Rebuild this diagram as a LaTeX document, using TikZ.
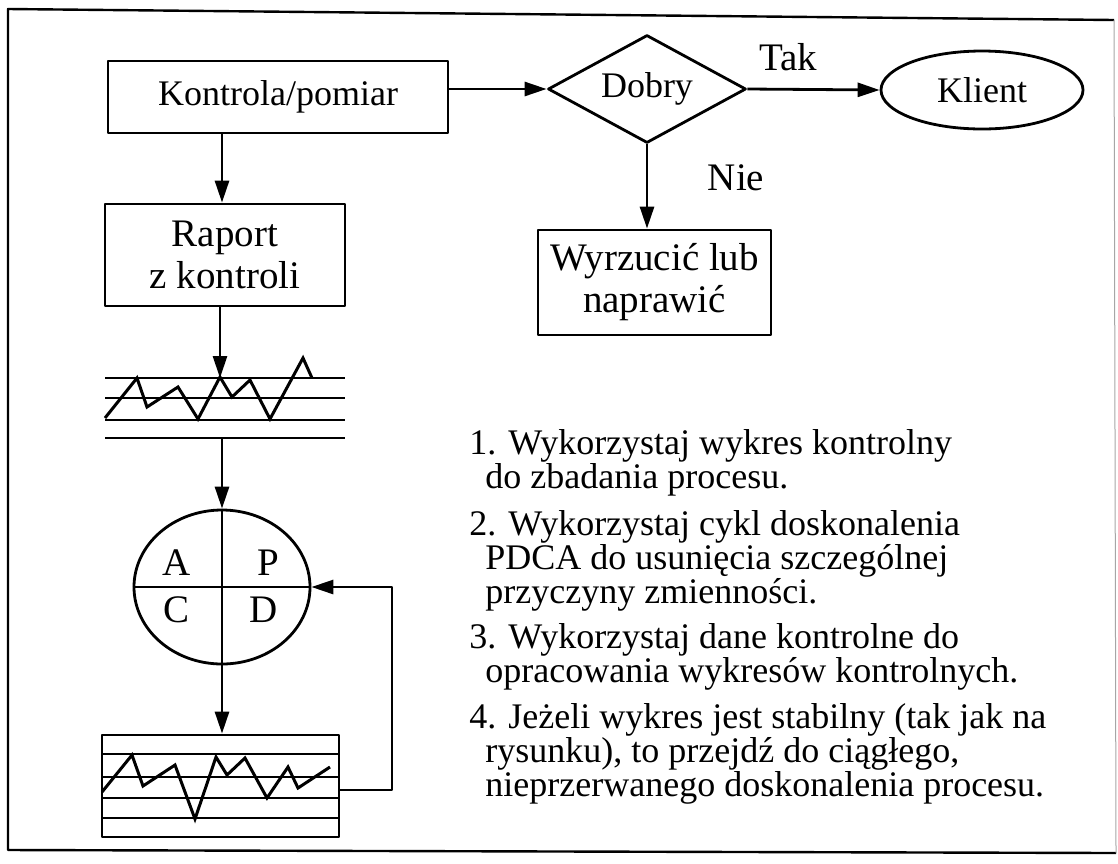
\documentclass[tikz,border=0pt]{standalone}
\usepackage{fontspec}
\setmainfont{Liberation Serif}
\usetikzlibrary{arrows.meta,shapes.geometric}
\begin{document}
\begin{tikzpicture}[x=1pt,y=-1pt,
  line width=2.8pt, line join=round,
  flow/.style={draw, line width=2.8pt, -{Triangle[length=22pt,width=14pt]}},
  box/.style={draw, line width=2.8pt, rectangle, inner sep=0pt, align=center},
  txt/.style={font=\fontsize{36}{36}\selectfont},
  big/.style={font=\fontsize{39}{42}\selectfont},
  item/.style={anchor=north west, inner sep=0pt, align=left,
               font=\fontsize{36}{34}\selectfont},
  grid/.style={line width=2.6pt},
  trace/.style={line width=3pt, line join=miter}
]
\useasboundingbox (0,0) rectangle (1118,863);

% outer frame
\draw[line width=2.4pt] (1114,20) -- (8,9) -- (8,850) -- (1116,853);
\draw[line width=1pt, black!35] (1114,20) -- (1116,853);

% top row: inspection, decision, customer
\node[box, txt, minimum width=340pt, minimum height=72pt] (kp) at (278,97) {Kontrola/pomiar};
\node[draw, diamond, line width=2.8pt, inner sep=0pt, shape aspect=1.85,
      minimum width=198pt, minimum height=108pt, txt] (dob) at (647,89) {Dobry};
\node[draw, ellipse, line width=2.8pt, inner sep=0pt,
      minimum width=202pt, minimum height=78pt, txt] (kl) at (982,90) {Klient};
\node[big] (tak) at (788,57) {Tak};
\node[big] (nie) at (736,178) {Nie};
\node[box, big, minimum width=233pt, minimum height=105pt] (wl) at (654.5,282.5) {Wyrzucić lub\\naprawić};

\draw[flow] (dob.west -| kp.east) -- (dob.west);
\draw[flow] (dob.east) -- (kl.west);
\draw[flow] (dob.south) -- (wl.north -| dob.south);

% report
\node[box, big, minimum width=240pt, minimum height=102pt] (rap) at (225,255) {Raport\\z kontroli};
\draw[flow] (kp.south -| 222,0) -- (rap.north -| 222,0);

% first control chart
\coordinate (c1t) at (220,378);
\coordinate (c1b) at (220,438);
\draw[flow] (rap.south -| c1t) -- (c1t);
\foreach \yy in {378,398,420,438} \draw[grid] (105,\yy) -- (345,\yy);
\draw[trace] (105,418) -- (137,378) -- (147,407) -- (178,387) -- (198,419) -- (220,377)
  -- (232,397) -- (250,380) -- (270,419) -- (303,358) -- (312,378);

% PDCA cycle
\node[draw, ellipse, line width=2.8pt, inner sep=0pt,
      minimum width=176pt, minimum height=154pt] (pdca) at (222,587) {};
\draw (pdca.north) -- (pdca.south);
\draw (pdca.west) -- (pdca.east);
\node[big] (pa) at (177,563) {A};
\node[big] (pp) at (268,563) {P};
\node[big] (pc) at (177,610) {C};
\node[big] (pd) at (264,610) {D};
\draw[flow] (c1b) -- (pdca.north |- c1b) -- (pdca.north);

% second control chart
\node[box, minimum width=237pt, minimum height=102pt] (ch2) at (220.5,786) {};
\foreach \yy in {754,777,798,818} \draw[grid] (102,\yy) -- (339,\yy);
\draw[trace] (102,792) -- (132,755) -- (143,786) -- (175,765) -- (195,819) -- (216,757)
  -- (227,775) -- (245,758) -- (267,798) -- (288,767) -- (298,788) -- (330,767);
\draw[flow] (pdca.south) -- (ch2.north -| pdca.south);
\draw[flow] (ch2.east |- 0,790) -- (392,790) |- (pdca.east);

% notes (first baseline 26pt below each node's top)
\node[item] (n1) at (468,427) {\rule{0pt}{26pt}1. Wykorzystaj wykres kontrolny\\
  \hspace*{16pt}do zbadania procesu.};
\node[item] (n2) at (468,508) {\rule{0pt}{26pt}2. Wykorzystaj cykl doskonalenia\\
  \hspace*{16pt}PDCA do usunięcia szczególnej\\
  \hspace*{16pt}przyczyny zmienności.};
\node[item] (n3) at (468,621) {\rule{0pt}{26pt}3. Wykorzystaj dane kontrolne do\\
  \hspace*{16pt}opracowania wykresów kontrolnych.};
\node[item] (n4) at (468,701) {\rule{0pt}{26pt}4. Jeżeli wykres jest stabilny (tak jak na\\
  \hspace*{16pt}rysunku), to przejdź do ciągłego,\\
  \hspace*{16pt}nieprzerwanego doskonalenia procesu.};
\end{tikzpicture}
\end{document}
